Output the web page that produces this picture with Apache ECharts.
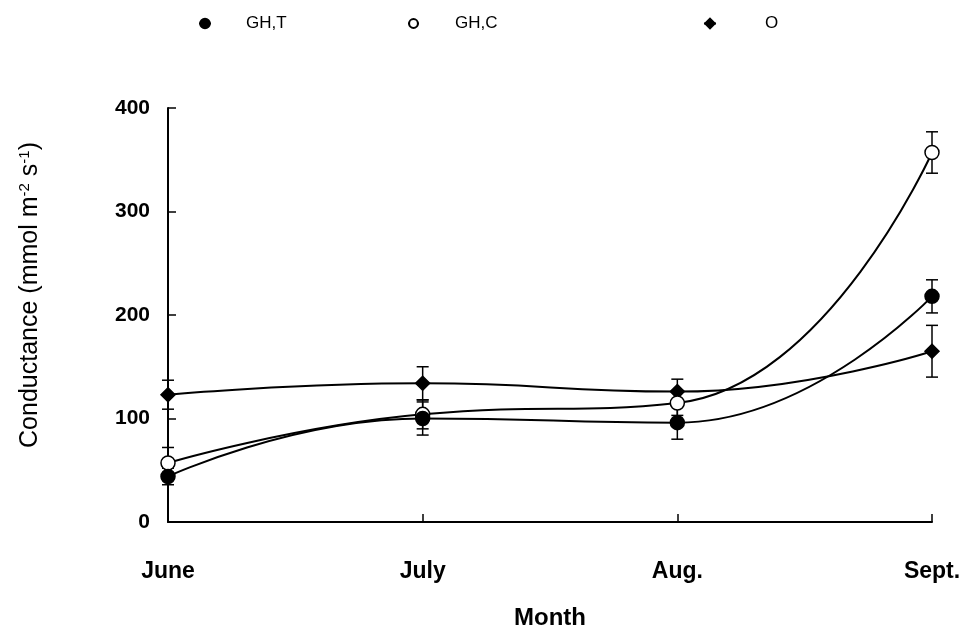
<!DOCTYPE html>
<html>
<head>
<meta charset="utf-8">
<script src="https://cdn.jsdelivr.net/npm/echarts@6/dist/echarts.min.js"></script>
<style>html,body{margin:0;padding:0;background:#fff}#c{width:962px;height:629px}</style>
</head>
<body>
<div id="c"></div>
<script>
var months = ['June', 'July', 'Aug.', 'Sept.'];
var yTicks = [0, 100, 200, 300, 400];
var ghT = [44, 100, 96, 218];
var ghTErr = [8, 16, 16, 16];
var ghC = [57, 104, 115, 357];
var ghCErr = [15, 14, 12, 20];
var oVals = [123, 134, 126, 165];
var oErr = [14, 16, 12, 25];

var chart = echarts.init(document.getElementById('c'));
var FONT = 'Liberation Sans, Arial, sans-serif';

function errData(vals, errs) {
  return vals.map(function (v, i) { return [i, v - errs[i], v + errs[i]]; });
}
function errSeries(name, vals, errs) {
  return {
    type: 'custom',
    name: name + ' err',
    data: errData(vals, errs),
    z: 1,
    silent: true,
    renderItem: function (params, api) {
      var x = api.value(0);
      var lo = api.coord([x, api.value(1)]);
      var hi = api.coord([x, api.value(2)]);
      var w = 6;
      var st = { stroke: '#000', lineWidth: 1.5 };
      return {
        type: 'group',
        children: [
          { type: 'line', shape: { x1: lo[0], y1: lo[1], x2: hi[0], y2: hi[1] }, style: st },
          { type: 'line', shape: { x1: lo[0] - w, y1: lo[1], x2: lo[0] + w, y2: lo[1] }, style: st },
          { type: 'line', shape: { x1: hi[0] - w, y1: hi[1], x2: hi[0] + w, y2: hi[1] }, style: st }
        ]
      };
    }
  };
}
function lineSeries(name, vals, symbol, fill, size) {
  return {
    type: 'line',
    name: name,
    data: vals,
    smooth: 0.5,
    symbol: symbol,
    symbolSize: size,
    showAllSymbol: true,
    z: 3,
    lineStyle: { color: '#000', width: 2 },
    itemStyle: { color: fill, borderColor: '#000', borderWidth: 1.5 }
  };
}
function legendAt(left, name, gap, size) {
  return {
    left: left, top: 10,
    data: [name],
    itemWidth: size, itemHeight: size, itemGap: 0,
    textStyle: { fontFamily: FONT, fontSize: 17, color: '#000', padding: [0, 0, 0, gap] },
    selectedMode: false
  };
}

chart.setOption({
  backgroundColor: '#fff',
  animation: false,
  legend: [legendAt(193, 'GH,T', 30, 12), legendAt(402, 'GH,C', 31, 11), legendAt(698, 'O', 44, 12)],
  grid: { left: 168, right: 30, top: 108, bottom: 107, outerBoundsMode: 'none', containLabel: false },
  xAxis: {
    type: 'category',
    data: months,
    boundaryGap: false,
    name: 'Month',
    nameLocation: 'middle',
    nameGap: 84,
    nameTextStyle: { fontFamily: FONT, fontSize: 24, fontWeight: 'bold', color: '#000' },
    axisLine: { lineStyle: { color: '#000', width: 2 } },
    axisTick: { inside: true, length: 8, lineStyle: { color: '#000', width: 1.5 } },
    axisLabel: { fontFamily: FONT, fontSize: 23, fontWeight: 'bold', color: '#000', margin: 38 }
  },
  yAxis: {
    type: 'value',
    min: yTicks[0],
    max: yTicks[yTicks.length - 1],
    interval: yTicks[1] - yTicks[0],
    name: 'Conductance (mmol m{sup|-2} s{sup|-1})',
    nameLocation: 'middle',
    nameGap: 124,
    nameRotate: 90,
    nameTextStyle: {
      fontFamily: FONT, fontSize: 25, color: '#000', padding: [0, 0, 0, 40],
      rich: { sup: { fontFamily: FONT, fontSize: 15, color: '#000', verticalAlign: 'bottom', padding: [0, 0, 12, 0] } }
    },
    splitLine: { show: false },
    axisLine: { show: true, lineStyle: { color: '#000', width: 2 } },
    axisTick: { show: true, inside: true, length: 8, lineStyle: { color: '#000', width: 1.5 } },
    axisLabel: { fontFamily: FONT, fontSize: 21, fontWeight: 'bold', color: '#000', margin: 18 }
  },
  series: [
    errSeries('GH,T', ghT, ghTErr),
    errSeries('GH,C', ghC, ghCErr),
    errSeries('O', oVals, oErr),
    lineSeries('O', oVals, 'diamond', '#000', 14),
    lineSeries('GH,C', ghC, 'circle', '#fff', 14),
    lineSeries('GH,T', ghT, 'circle', '#000', 14)
  ]
});
</script>
</body>
</html>
